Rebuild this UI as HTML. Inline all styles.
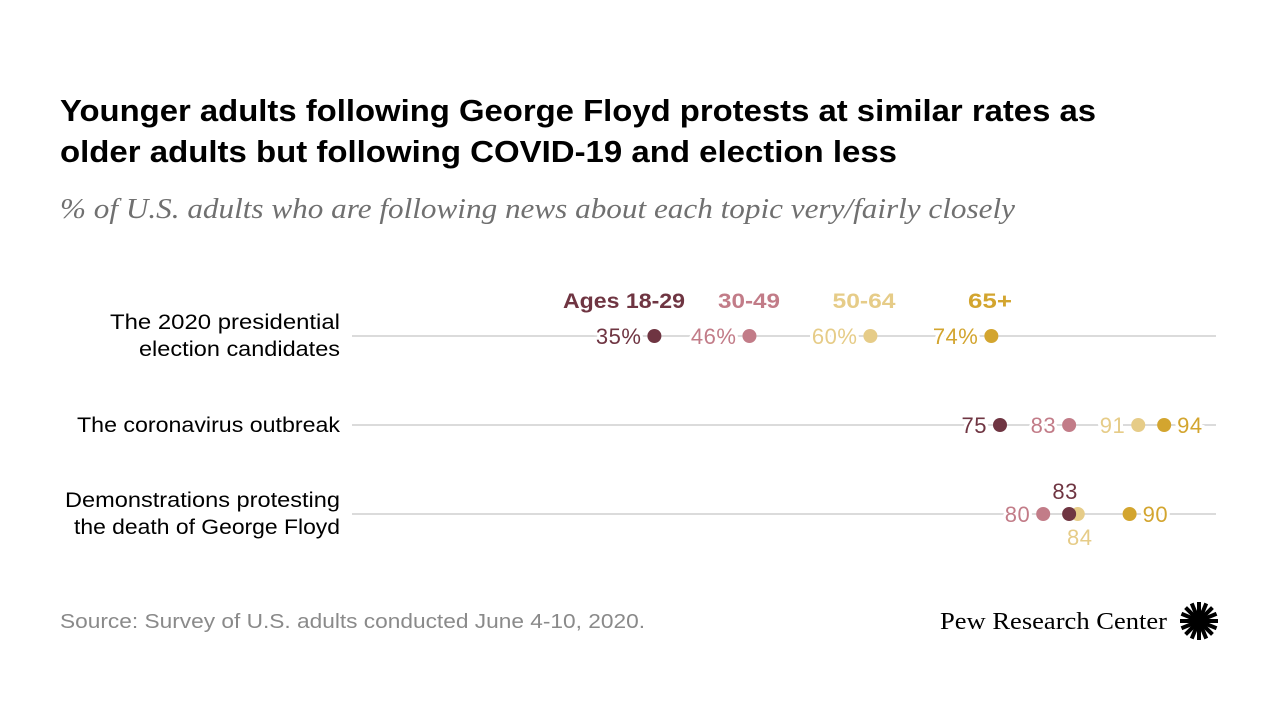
<!DOCTYPE html>
<html><head><meta charset="utf-8"><style>
body{margin:0;background:#fff;width:1280px;height:720px;overflow:hidden;font-family:"Liberation Sans",sans-serif}
</style></head><body>
<svg width="1280" height="720">
<text x="60" y="121" font-size="31" font-weight="bold" fill="#000" textLength="1036" lengthAdjust="spacingAndGlyphs">Younger adults following George Floyd protests at similar rates as</text>
<text x="60" y="162" font-size="31" font-weight="bold" fill="#000" textLength="837" lengthAdjust="spacingAndGlyphs">older adults but following COVID-19 and election less</text>
<text x="60" y="218" font-size="28" font-style="italic" fill="#707070" font-family="Liberation Serif,serif" textLength="955" lengthAdjust="spacingAndGlyphs">% of U.S. adults who are following news about each topic very/fairly closely</text>
<g id="plot"></g>
<text x="60" y="628" font-size="20" fill="#8a8a8a" textLength="585" lengthAdjust="spacingAndGlyphs">Source: Survey of U.S. adults conducted June 4-10, 2020.</text>
<text x="940" y="629" font-size="24" fill="#000" font-family="Liberation Serif,serif" textLength="227" lengthAdjust="spacingAndGlyphs">Pew Research Center</text>
<g transform="translate(1199,621)" id="logo"></g>
</svg>
<script>
const categories=["The 2020 presidential|election candidates","The coronavirus outbreak","Demonstrations protesting|the death of George Floyd"];
const groups=["Ages 18-29","30-49","50-64","65+"];
const v1829=[35,75,83];
const v3049=[46,83,80];
const v5064=[60,91,84];
const v65=[74,94,90];
const colors=["#6f3542","#c27c88","#e6cc88","#d3a52f"];
const NS="http://www.w3.org/2000/svg";
const plot=document.getElementById('plot');
const x=v=>352+v*8.64;
const rowY=[336,425,514];
function el(t,a,p){const e=document.createElementNS(NS,t);for(const k in a)e.setAttribute(k,a[k]);(p||plot).appendChild(e);return e;}
const series=[v1829,v3049,v5064,v65];
const legendX=[624,749,864,990];
const legendW=[122,62,63,44];
groups.forEach((g,i)=>{const t=el('text',{x:legendX[i],y:308,'font-size':21,'font-weight':'bold',fill:colors[i],'text-anchor':'middle',textLength:legendW[i],lengthAdjust:'spacingAndGlyphs'});t.textContent=g;

});
const catW=[[230,201],[263],[275,266]];
categories.forEach((c,r)=>{
 const y=rowY[r];
 const ln=el('line',{x1:x(0),x2:x(100),y1:y,y2:y,stroke:'#cfcfcf','stroke-width':1.5});
 
 
 const parts=c.split('|');
 parts.forEach((p,k)=>{const t=el('text',{x:340,y:y+(parts.length>1?(k?20:-7):7),'font-size':21,'text-anchor':'end',fill:'#000',textLength:catW[r][k],lengthAdjust:'spacingAndGlyphs'});t.textContent=p;
 
 });
});
const place=[["l","l","l","l"],["l","l","l","r"],["t","l","b","r"]];
series.forEach((s,i)=>{s.forEach((v,r)=>{
 const y=rowY[r],cx=x(v);
 let pos=place[r][i],tx=cx-13,ty=y+8,anc='end';
 if(pos==='r'){tx=cx+13;anc='start';}
 if(pos==='t'){tx=cx-4;ty=y-15;anc='middle';}
 if(pos==='b'){tx=cx+2;ty=y+31;anc='middle';}
 const t=el('text',{x:tx,y:ty,'font-size':22,'letter-spacing':'0.5','text-anchor':anc,fill:colors[i],stroke:'#fff','stroke-width':6,'paint-order':'stroke'});
 t.textContent=v+(r===0?'%':'');
 
 
});});
[2,1,3,0].forEach(i=>{series[i].forEach((v,r)=>{
 const d=el('circle',{cx:x(v),cy:rowY[r],r:7,fill:colors[i]});
 
 
});});
const logo=document.getElementById('logo');
for(let a=0;a<360;a+=22.5){const r=a*Math.PI/180;el('line',{x1:Math.cos(r)*5,y1:Math.sin(r)*5,x2:Math.cos(r)*19,y2:Math.sin(r)*19,stroke:'#000','stroke-width':4},logo);}
el('circle',{r:6,fill:'#000'},logo);
</script>
</body></html>
